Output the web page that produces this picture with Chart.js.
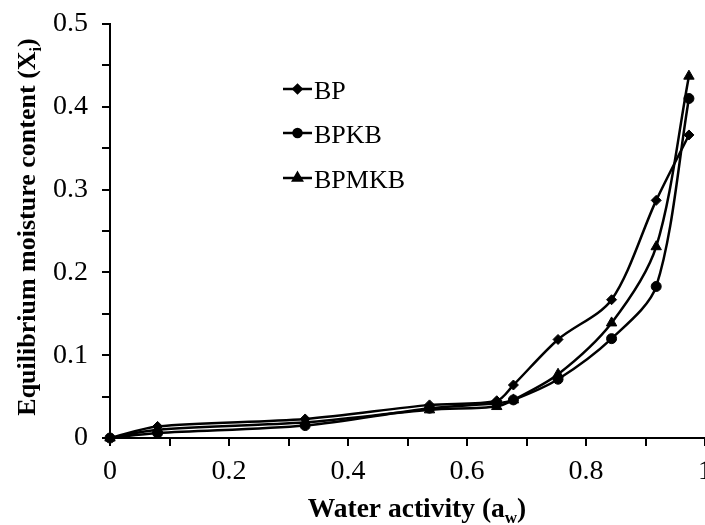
<!DOCTYPE html>
<html><head><meta charset="utf-8">
<script src="https://cdn.jsdelivr.net/npm/chart.js@4.4.1/dist/chart.umd.min.js"></script>
<style>html,body{margin:0;padding:0;background:#fff;overflow:hidden}#wrap{width:705px;height:525px}</style>
</head><body><div id="wrap"><canvas id="c" width="705" height="525"></canvas></div>
<script>
// ---- data ----
const waterActivity = [0, 0.08, 0.328, 0.537, 0.65, 0.678, 0.753, 0.843, 0.918, 0.973];
const bpValues    = [0, 0.014, 0.023, 0.040, 0.045, 0.064, 0.119, 0.167, 0.287, 0.366];
const bpkbValues  = [0, 0.006, 0.015, 0.036, 0.042, 0.046, 0.071, 0.120, 0.183, 0.410];
const bpmkbValues = [0, 0.010, 0.019, 0.034, 0.038, 0.046, 0.077, 0.139, 0.231, 0.437];
const seriesNames = ['BP', 'BPKB', 'BPMKB'];
const xTickLabels = ['0', '0.2', '0.4', '0.6', '0.8', '1'];
const yTickLabels = ['0', '0.1', '0.2', '0.3', '0.4', '0.5'];
const xTitleRuns = [['Water activity (a', 0], ['w', 1], [')', 0]];
const yTitleRuns = [['Equilibrium moisture content (X', 0], ['i', 1], [')', 0]];

const SERIF = "'Liberation Serif', 'Times New Roman', serif";
Chart.defaults.font.family = SERIF;
Chart.defaults.color = '#000';

function pairs(vals) { return waterActivity.map((x, i) => ({ x: x, y: vals[i] })); }

const styles = [
  { pointStyle: 'rectRot', radius: 5, legendRadius: 4 },
  { pointStyle: 'circle', radius: 5, legendRadius: 4 },
  { pointStyle: 'triangle', radius: 6, legendRadius: 5 }
];
const allValues = [bpValues, bpkbValues, bpmkbValues];

const datasets = allValues.map((vals, i) => ({
  label: seriesNames[i],
  data: pairs(vals),
  borderColor: '#000',
  backgroundColor: '#000',
  borderWidth: 2.5,
  pointStyle: styles[i].pointStyle,
  pointRadius: styles[i].radius,
  pointBackgroundColor: '#000',
  pointBorderColor: '#000',
  pointBorderWidth: 1,
  tension: 0.3,
  clip: false,
  fill: false
}));

function drawRuns(ctx, runs, x, y, size, bold) {
  const w = bold ? 'bold ' : '';
  const fonts = [w + size + 'px ' + SERIF, w + Math.round(size * 0.62) + 'px ' + SERIF];
  let total = 0;
  runs.forEach(r => { ctx.font = fonts[r[1]]; total += ctx.measureText(r[0]).width; });
  let cx = x - total / 2;
  ctx.textAlign = 'left';
  ctx.textBaseline = 'alphabetic';
  runs.forEach(r => {
    ctx.font = fonts[r[1]];
    ctx.fillText(r[0], cx, y + (r[1] ? size * 0.22 : 0));
    cx += ctx.measureText(r[0]).width;
  });
}

const decorPlugin = {
  id: 'decor',
  afterDraw(chart) {
    const ctx = chart.ctx;
    ctx.save();
    ctx.fillStyle = '#000';
    // x title
    drawRuns(ctx, xTitleRuns, 417, 517, 27.5, true);
    // y title
    ctx.save();
    ctx.translate(35, 227);
    ctx.rotate(-Math.PI / 2);
    drawRuns(ctx, yTitleRuns, 0, 0, 26, true);
    ctx.restore();
    // legend
    const lx = 283, ly = [89, 133, 178];
    seriesNames.forEach((name, i) => {
      ctx.strokeStyle = '#000';
      ctx.lineWidth = 2.5;
      ctx.beginPath();
      ctx.moveTo(lx, ly[i]);
      ctx.lineTo(lx + 29, ly[i]);
      ctx.stroke();
      ctx.fillStyle = '#000';
      Chart.helpers.drawPoint(ctx, { pointStyle: styles[i].pointStyle, radius: styles[i].legendRadius, borderWidth: 1 }, lx + 14.5, ly[i]);
      ctx.fill();
      ctx.font = '26px ' + SERIF;
      ctx.textAlign = 'left';
      ctx.textBaseline = 'alphabetic';
      ctx.fillText(name, lx + 31, ly[i] + 10);
    });
    ctx.restore();
  }
};

new Chart(document.getElementById('c'), {
  type: 'line',
  data: { datasets: datasets },
  options: {
    responsive: false,
    animation: false,
    layout: { autoPadding: false, padding: { top: 24, right: 0, left: 0, bottom: 0 } },
    plugins: { legend: { display: false }, tooltip: { enabled: false } },
    scales: {
      x: {
        type: 'linear', min: 0, max: 1,
        ticks: {
          stepSize: 0.1, autoSkip: false, maxRotation: 0, padding: 9,
          font: { size: 28 }, color: '#000',
          callback: v => { const k = Math.round(v * 10); return k % 2 === 0 ? xTickLabels[k / 2] : ''; }
        },
        grid: { drawOnChartArea: false, drawTicks: true, tickLength: 8, color: '#000', lineWidth: 2 },
        border: { display: true, color: '#000', width: 2 },
        afterFit: s => { s.height = 87; s.paddingRight = 0; s.paddingLeft = 0; }
      },
      y: {
        type: 'linear', min: 0, max: 0.5,
        ticks: {
          stepSize: 0.05, autoSkip: false, padding: 14,
          font: { size: 28 }, color: '#000',
          callback: v => { const k = Math.round(v * 20); return k % 2 === 0 ? yTickLabels[k / 2] : ''; }
        },
        grid: { drawOnChartArea: false, drawTicks: true, tickLength: 8, color: '#000', lineWidth: 2 },
        border: { display: true, color: '#000', width: 2 },
        afterFit: s => { s.width = 110; s.paddingTop = 0; s.paddingBottom = 0; }
      }
    }
  },
  plugins: [decorPlugin]
});
</script></body></html>
